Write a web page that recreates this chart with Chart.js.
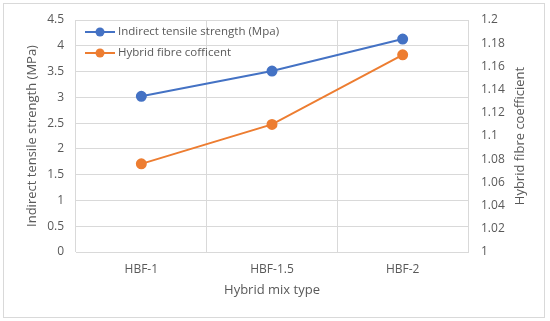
<!DOCTYPE html>
<html>
<head>
<meta charset="utf-8">
<script src="https://cdn.jsdelivr.net/npm/chart.js@4/dist/chart.umd.min.js"></script>
<style>
  html, body { margin: 0; padding: 0; background: #fff; }
  #wrap { position: relative; width: 550px; height: 321px; }
  #frame { position: absolute; left: 3px; top: 3px; width: 542px; height: 315px; border: 1px solid #d9d9d9; box-sizing: border-box; pointer-events: none; }
</style>
</head>
<body>
<div id="wrap">
  <canvas id="myChart" width="550" height="321"></canvas>
  <div id="frame"></div>
</div>
<script>
var categories = ["HBF-1", "HBF-1.5", "HBF-2"];
var tensileStrength = [3.02, 3.51, 4.13];
var fibreCoefficient = [1.076, 1.11, 1.17];
var seriesNames = ["Indirect tensile strength (Mpa)", "Hybrid fibre cofficent"];
var rightTitle = "Hybrid fibre coefficient";

var textColor = "#595959";
var fontFamily = "'Open Sans', 'Noto Sans', sans-serif";

// legend drawn inside the plot area, like the spreadsheet original
// also the right axis title, which reads bottom-to-top in the original
var extras = {
    id: "extras",
    afterDraw: function (chart) {
        var ctx = chart.ctx;
        var area = chart.chartArea;
        var x = area.left + 9;
        var y = area.top + 12;
        ctx.save();
        chart.data.datasets.forEach(function (ds, i) {
            var yy = y + i * 21;
            ctx.strokeStyle = ds.borderColor;
            ctx.lineWidth = 2;
            ctx.beginPath();
            ctx.moveTo(x, yy);
            ctx.lineTo(x + 30, yy);
            ctx.stroke();
            ctx.fillStyle = ds.borderColor;
            ctx.beginPath();
            ctx.arc(x + 15, yy, 4.5, 0, Math.PI * 2);
            ctx.fill();
            ctx.fillStyle = textColor;
            ctx.font = "11.5px " + fontFamily;
            ctx.textBaseline = "middle";
            ctx.textAlign = "left";
            ctx.fillText(ds.label, x + 33, yy);
        });

        var ys = chart.scales.y1;
        ctx.translate(ys.right - 10, (area.top + area.bottom) / 2);
        ctx.rotate(-Math.PI / 2);
        ctx.font = "13px " + fontFamily;
        ctx.textAlign = "center";
        ctx.textBaseline = "middle";
        ctx.fillStyle = textColor;
        ctx.fillText(rightTitle, 0, 0);
        ctx.restore();
    }
};

var canvas1 = document.getElementById("myChart");
var ctx = canvas1.getContext("2d");

new Chart(ctx, {
    type: "line",
    data: {
        labels: categories,
        datasets: [
            {
                label: seriesNames[0],
                data: tensileStrength,
                yAxisID: "y",
                borderColor: "#4472c4",
                backgroundColor: "#4472c4",
                borderWidth: 2,
                pointRadius: 4.5,
                pointHoverRadius: 4.5,
            },
            {
                label: seriesNames[1],
                data: fibreCoefficient,
                yAxisID: "y1",
                borderColor: "#ed7d31",
                backgroundColor: "#ed7d31",
                borderWidth: 2,
                pointRadius: 4.5,
                pointHoverRadius: 4.5,
            },
        ],
    },
    options: {
        responsive: false,
        animation: false,
        layout: { padding: { left: 24, right: 20, top: 20, bottom: 21 } },
        plugins: { legend: { display: false }, tooltip: { enabled: false } },
        scales: {
            x: {
                offset: true,
                grid: { offset: true, color: "#d9d9d9", drawTicks: false },
                border: { color: "#d9d9d9" },
                ticks: { color: textColor, font: { family: fontFamily, size: 12 }, padding: 10 },
                title: { display: true, text: "Hybrid mix type", color: textColor, font: { family: fontFamily, size: 13 }, padding: { top: 4, bottom: 2 } },
                afterFit: function (s) { s.height = 48; },
            },
            y: {
                position: "left",
                min: 0,
                max: 4.5,
                ticks: { stepSize: 0.5, color: textColor, font: { family: fontFamily, size: 12 }, padding: 12,
                    callback: function (v) { return String(v); } },
                grid: { color: "#d9d9d9", drawTicks: false },
                border: { display: false },
                title: { display: true, text: "Indirect tensile strength (MPa)", color: textColor, font: { family: fontFamily, size: 13 }, padding: 0 },
                afterFit: function (s) { s.width = 52; },
            },
            y1: {
                position: "right",
                min: 1,
                max: 1.2,
                ticks: { stepSize: 0.02, color: textColor, font: { family: fontFamily, size: 12 }, padding: 8,
                    callback: function (v) { return String(Math.round(v * 100) / 100); } },
                grid: { display: false, drawTicks: true, tickLength: 5, tickColor: "#d9d9d9" },
                border: { color: "#d9d9d9" },
                afterFit: function (s) { s.width = 62; },
            },
        },
    },
    plugins: [extras],
});
</script>
</body>
</html>
